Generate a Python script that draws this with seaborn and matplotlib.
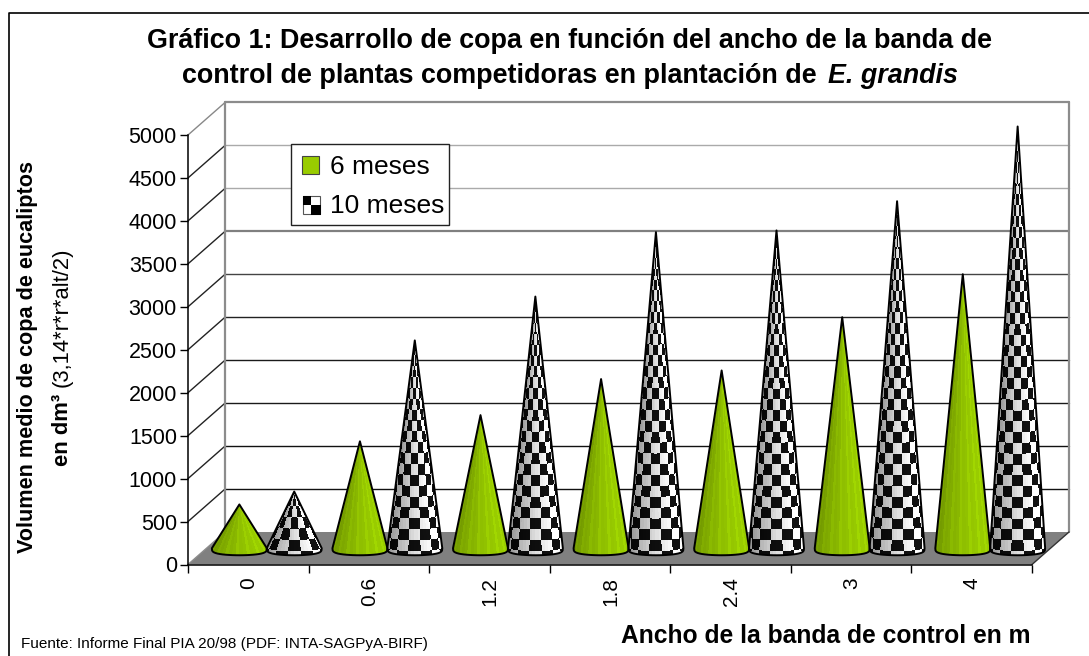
import numpy as np
import pandas as pd
import matplotlib
matplotlib.use('Agg')
import matplotlib.pyplot as plt
from matplotlib.legend_handler import HandlerBase
from matplotlib.lines import Line2D
from matplotlib.patches import Patch, Polygon, Rectangle
import seaborn as sns

# Data
anchos = ['0', '0.6', '1.2', '1.8', '2.4', '3', '4']
vol_6_meses = [510, 1245, 1550, 1970, 2070, 2690, 3190]
vol_10_meses = [660, 2420, 2930, 3680, 3700, 4040, 4910]
y_ticks = [0, 500, 1000, 1500, 2000, 2500, 3000, 3500, 4000, 4500, 5000]

W, H = 1089, 656
AX_L, AX_R, AX_T, AX_B = 188, 1032, 135, 564.5
PX_X = (AX_R - AX_L) / len(anchos)    # px per category
PX_Y = (AX_B - AX_T) / 5000           # px per unit
DEPTH_X = 37 / PX_X
DEPTH_Y = 32.5 / PX_Y
GREEN = np.array([153, 204, 0]) / 255

df = pd.DataFrame({
    'ancho': anchos * 2,
    'volumen': vol_6_meses + vol_10_meses,
    'edad': ['6 meses'] * len(anchos) + ['10 meses'] * len(anchos),
})

sns.set_theme(style='white')
plt.rcParams['font.family'] = ['Liberation Sans', 'DejaVu Sans']

fig = plt.figure(figsize=(W / 100, H / 100), dpi=100)
ax = fig.add_axes([AX_L / W, 1 - AX_B / H, (AX_R - AX_L) / W, (AX_B - AX_T) / H])
ax.patch.set_alpha(0)

# bars only give the geometry, the cones are drawn on top of them
sns.barplot(data=df, x='ancho', y='volumen', hue='edad', order=anchos, width=0.91,
            gap=0, legend=False, ax=ax)


def draw_cone(cx, value, checker):
    half_w = 0.228
    semi_b = 7 / PX_Y
    base = DEPTH_Y / 2
    apex = value + DEPTH_Y / 2
    cx = cx + DEPTH_X / 2

    # flat looking base, as the low poly cones of the original
    ang = np.linspace(np.pi, 2 * np.pi, 25)
    outline = [(cx + half_w * np.cos(a), base - semi_b * abs(np.sin(a)) ** 0.55) for a in ang]
    outline.append((cx, apex))

    nx, ny = 160, max(int((apex - base + semi_b) * PX_Y * 2), 30)
    xs = np.linspace(cx - half_w, cx + half_w, nx)
    ys = np.linspace(base - semi_b, apex, ny)
    xx, yy = np.meshgrid(xs, ys)
    r = np.clip((apex - yy) / (apex - base), 0.001, None)
    t = np.clip((xx - cx) / (half_w * r), -1, 1)
    u = np.arcsin(t) / np.pi + 0.5

    facet = np.floor(u * 26) / 26
    st = np.sin((facet - 0.5) * np.pi)
    if checker:
        shade = np.interp(st, [-1, -0.6, 0, 0.6, 1], [0.58, 0.72, 0.88, 1.0, 1.0])
        y_eff = yy - base + 0.5 * semi_b * r * np.sqrt(1 - t ** 2)
        cell = (np.floor(y_eff / 125) + np.floor(u * 7)) % 2
        grey = np.where(cell == 0, shade, 0.02 + 0.12 * (shade - 0.58))
        img = np.dstack([grey, grey, grey])
    else:
        shade = np.interp(st, [-1, -0.6, 0, 0.6, 1], [0.74, 0.84, 0.94, 1.0, 1.0])
        stripe = 1 + 0.06 * (np.floor(u * 26) % 3 == 0)
        img = np.clip(GREEN[None, None, :] * (shade * stripe)[:, :, None], 0, 1)

    im = ax.imshow(img, origin='lower', aspect='auto', zorder=3, interpolation='nearest',
                   extent=(xs[0], xs[-1], ys[0], ys[-1]))
    edge = Polygon(outline, closed=True, facecolor='none', edgecolor='black', lw=1.4,
                   joinstyle='round', zorder=4, clip_on=False)
    ax.add_patch(edge)
    im.set_clip_path(edge)
    im.set_clip_box(fig.bbox)


for container, checker in zip(ax.containers, [False, True]):
    for bar in container:
        bar.set_visible(False)
        draw_cone(bar.get_x() + bar.get_width() / 2, bar.get_height(), checker)

# walls and floor of the 3D box
x0, x1 = -0.5, len(anchos) - 0.5
ax.add_patch(Polygon([(x0, 0), (x1, 0), (x1 + DEPTH_X, DEPTH_Y), (x0 + DEPTH_X, DEPTH_Y)],
                     closed=True, facecolor='#808080', edgecolor='none', zorder=1.5, clip_on=False))
grid_cols = {500: '#111111', 1000: '#111111', 1500: '#1a1a1a', 2000: '#1a1a1a', 2500: '#222222',
             3000: '#444444', 3500: '#808080', 4000: '#aaaaaa', 4500: '#aaaaaa', 5000: '#8c8c8c'}
for v in y_ticks[1:]:
    ax.plot([x0 + DEPTH_X, x1 + DEPTH_X], [v + DEPTH_Y, v + DEPTH_Y], color=grid_cols[v],
            lw=1.6 if v in (3500, 5000) else 1.0, zorder=1, clip_on=False)
    ax.plot([x0, x0 + DEPTH_X], [v, v + DEPTH_Y], color='#222222' if v < 5000 else '#888888',
            lw=1.0, zorder=1, clip_on=False)
top = 5000 + DEPTH_Y
ax.plot([x0 + DEPTH_X, x0 + DEPTH_X], [DEPTH_Y, top], color='#8c8c8c', lw=1.6, zorder=1.2, clip_on=False)
ax.plot([x1 + DEPTH_X, x1 + DEPTH_X], [DEPTH_Y, top], color='#8c8c8c', lw=1.6, zorder=1.2, clip_on=False)
ax.plot([x0, x0 + DEPTH_X], [0, DEPTH_Y], color='#8c8c8c', lw=1.0, zorder=1.6, clip_on=False)
ax.plot([x1, x1 + DEPTH_X], [0, DEPTH_Y], color='#333333', lw=1.0, zorder=1.6, clip_on=False)

# Axes
ax.set_xlim(x0, x1)
ax.set_ylim(0, 5000)
ax.set_xlabel('')
ax.set_ylabel('')
ax.set_yticks(y_ticks)
ax.tick_params(axis='y', left=True, length=6, width=1, color='black', labelsize=15.5, pad=2,
               labelcolor='black')
ax.set_xticks(np.arange(len(anchos) + 1) - 0.5)
ax.set_xticklabels([])
ax.set_xticks(np.arange(len(anchos)) + 0.005, labels=anchos, minor=True)
ax.tick_params(axis='x', which='major', bottom=True, length=6, width=1, color='black')
ax.tick_params(axis='x', which='minor', bottom=False, length=0, labelsize=15, pad=9,
               labelrotation=90, labelcolor='black')
sns.despine(ax=ax)
for s in ['left', 'bottom']:
    ax.spines[s].set_color('black')
    ax.spines[s].set_linewidth(1.1)
    ax.spines[s].set_zorder(2)


class HandlerChecker(HandlerBase):
    def create_artists(self, legend, orig_handle, xd, yd, width, height, fontsize, trans):
        s = 12.5
        x, y = xd * -1 + 0.5, yd * -1 - 1
        return [Rectangle((x, y), s, s, facecolor='white', edgecolor='#555555', lw=0.8, transform=trans),
                Rectangle((x, y + s / 2), s / 2, s / 2, facecolor='black', edgecolor='none', transform=trans),
                Rectangle((x + s / 2, y - 0.6), s / 2 + 0.8, s / 2 + 0.6, facecolor='black', edgecolor='none',
                          transform=trans)]


# legend box has uneven margins in the original, so the frame goes on its own
ax.add_patch(Rectangle((291 / W, 1 - 225 / H), 158 / W, 81 / H, transform=fig.transFigure, facecolor='white',
                       edgecolor='#222222', lw=1.0, zorder=4.5, clip_on=False))
h_6 = Patch(facecolor=GREEN, edgecolor='#444444', lw=0.8)
h_10 = Patch(facecolor='white')
ax.legend([h_6, h_10], ['6 meses', '10 meses'], handler_map={h_10: HandlerChecker()},
          loc='lower left', bbox_to_anchor=(291 / W, 1 - 229 / H), bbox_transform=fig.transFigure,
          borderaxespad=0, fontsize=19, frameon=False, labelcolor='black', handlelength=0.65,
          handleheight=0.65, handletextpad=0.42, borderpad=0.42, labelspacing=0.55)


def label(x, y, s, **kw):
    return fig.text(x / W, 1 - y / H, s, color='black', **kw)


# Titles and notes
label(569.5, 48, 'Gráfico 1: Desarrollo de copa en función del ancho de la banda de', fontsize=19.35,
      fontweight='bold', ha='center', va='baseline')
label(182, 83, 'control de plantas competidoras en plantación de', fontsize=19.35, fontweight='bold',
      ha='left', va='baseline')
label(828, 83, 'E. grandis', fontsize=19.35, fontweight='bold', fontstyle='italic', ha='left', va='baseline')
label(28, 357, 'Volumen medio de copa de eucaliptos', fontsize=15.6, fontweight='bold', rotation=90,
      ha='center', va='center')
label(62, 430, 'en dm³', fontsize=15.8, fontweight='bold', rotation=90, ha='center', va='center')
label(62, 317.5, '(3,14*r*r*alt/2)', fontsize=15.8, rotation=90, ha='center', va='center')
label(825.5, 643, 'Ancho de la banda de control en m', fontsize=17.7, fontweight='bold', ha='center',
      va='baseline')
label(21, 644, 'Fuente: Informe Final PIA 20/98 (PDF: INTA-SAGPyA-BIRF)', fontsize=11, ha='left', va='center')

# chart area frame, the image cuts it off right and bottom
fig.add_artist(Line2D([8.5 / W, 8.5 / W, 1], [0, 1 - 13 / H, 1 - 13 / H], color='black', lw=1.2))

fig.savefig('out.png', dpi=100)
